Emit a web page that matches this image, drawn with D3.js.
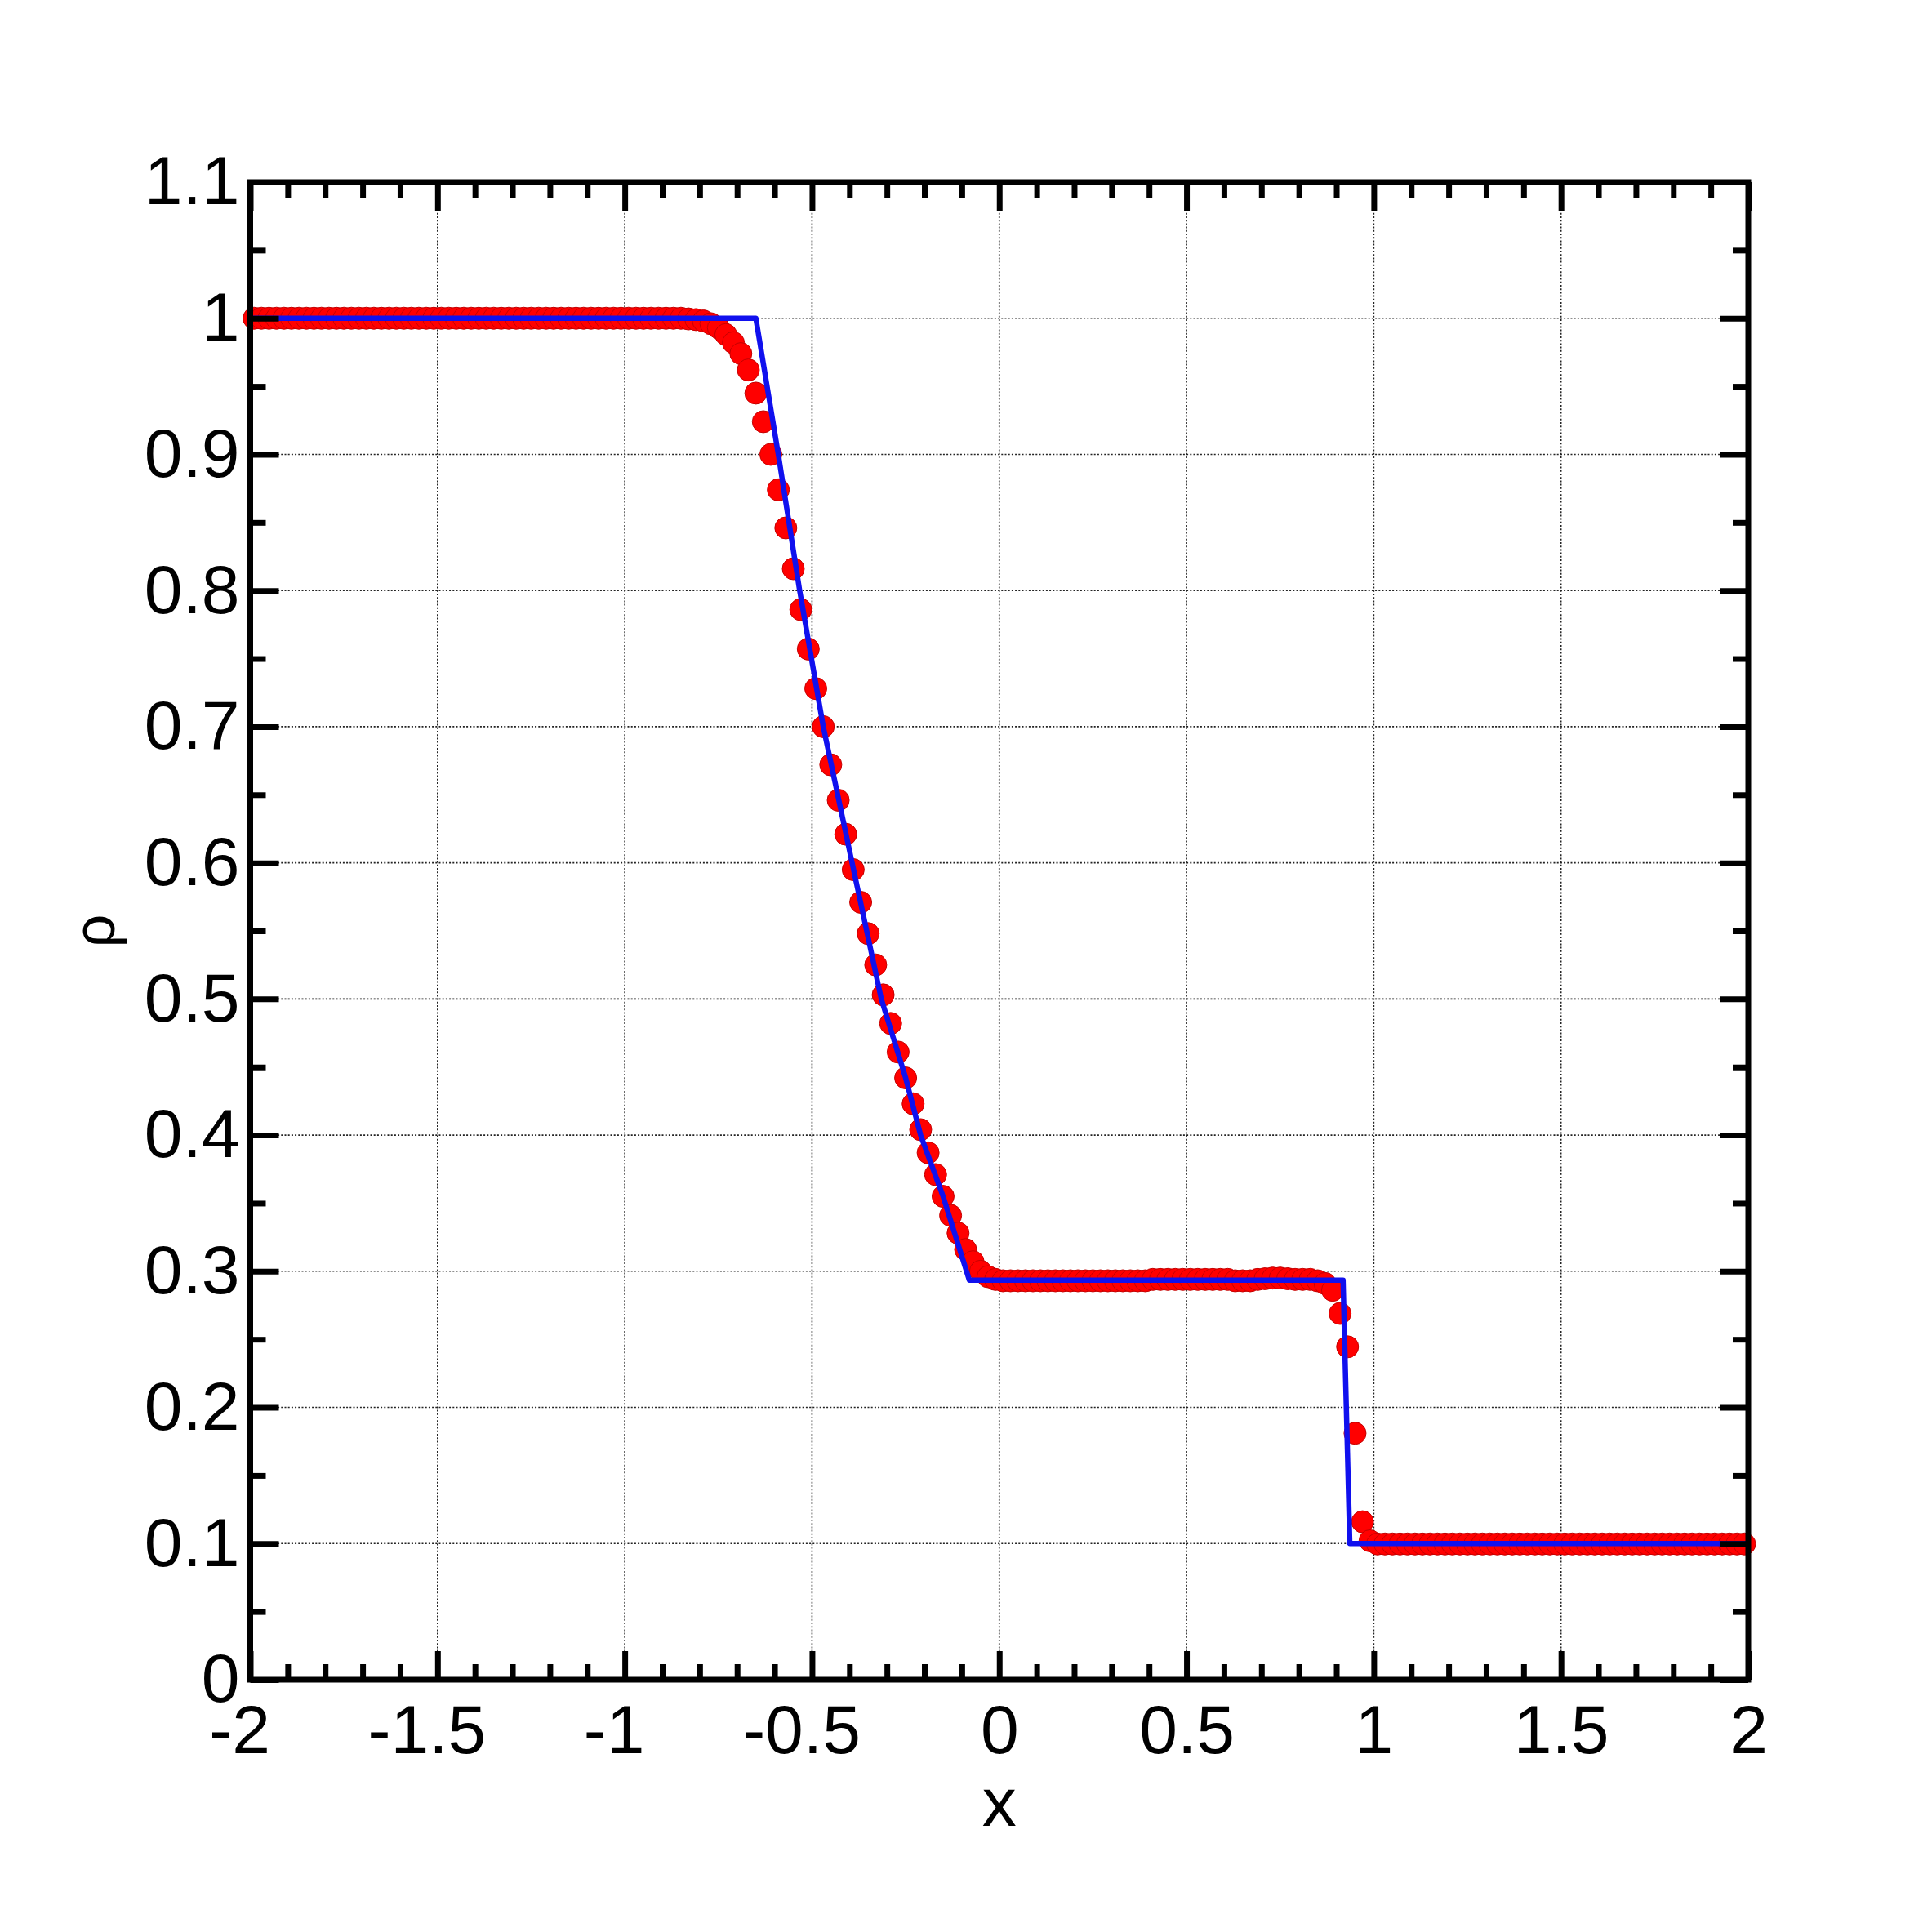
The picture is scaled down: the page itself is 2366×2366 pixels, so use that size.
<!DOCTYPE html>
<html>
<head>
<meta charset="utf-8">
<script src="https://cdn.jsdelivr.net/npm/d3@7"></script>
<style>
	body { margin: 0; background: #fff; }
	svg { display: block; }
	text { font-family: "Liberation Sans", Arial, sans-serif; fill: #000; }
</style>
</head>
<body>
<div id="chart"></div>
<script>
// numerical solution, one value per cell (200 cells on [-2, 2])
var cellX = [
	-1.99, -1.97, -1.95, -1.93, -1.91, -1.89, -1.87, -1.85, -1.83, -1.81,
	-1.79, -1.77, -1.75, -1.73, -1.71, -1.69, -1.67, -1.65, -1.63, -1.61,
	-1.59, -1.57, -1.55, -1.53, -1.51, -1.49, -1.47, -1.45, -1.43, -1.41,
	-1.39, -1.37, -1.35, -1.33, -1.31, -1.29, -1.27, -1.25, -1.23, -1.21,
	-1.19, -1.17, -1.15, -1.13, -1.11, -1.09, -1.07, -1.05, -1.03, -1.01,
	-0.99, -0.97, -0.95, -0.93, -0.91, -0.89, -0.87, -0.85, -0.83, -0.81,
	-0.79, -0.77, -0.75, -0.73, -0.71, -0.69, -0.67, -0.65, -0.63, -0.61,
	-0.59, -0.57, -0.55, -0.53, -0.51, -0.49, -0.47, -0.45, -0.43, -0.41,
	-0.39, -0.37, -0.35, -0.33, -0.31, -0.29, -0.27, -0.25, -0.23, -0.21,
	-0.19, -0.17, -0.15, -0.13, -0.11, -0.09, -0.07, -0.05, -0.03, -0.01,
	0.01, 0.03, 0.05, 0.07, 0.09, 0.11, 0.13, 0.15, 0.17, 0.19,
	0.21, 0.23, 0.25, 0.27, 0.29, 0.31, 0.33, 0.35, 0.37, 0.39,
	0.41, 0.43, 0.45, 0.47, 0.49, 0.51, 0.53, 0.55, 0.57, 0.59,
	0.61, 0.63, 0.65, 0.67, 0.69, 0.71, 0.73, 0.75, 0.77, 0.79,
	0.81, 0.83, 0.85, 0.87, 0.89, 0.91, 0.93, 0.95, 0.97, 0.99,
	1.01, 1.03, 1.05, 1.07, 1.09, 1.11, 1.13, 1.15, 1.17, 1.19,
	1.21, 1.23, 1.25, 1.27, 1.29, 1.31, 1.33, 1.35, 1.37, 1.39,
	1.41, 1.43, 1.45, 1.47, 1.49, 1.51, 1.53, 1.55, 1.57, 1.59,
	1.61, 1.63, 1.65, 1.67, 1.69, 1.71, 1.73, 1.75, 1.77, 1.79,
	1.81, 1.83, 1.85, 1.87, 1.89, 1.91, 1.93, 1.95, 1.97, 1.99
];

var cellRho = [
	1, 1, 1, 1, 1, 1, 1, 1, 1, 1,
	1, 1, 1, 1, 1, 1, 1, 1, 1, 1,
	1, 1, 1, 1, 1, 1, 1, 1, 1, 1,
	1, 1, 1, 1, 1, 1, 1, 1, 1, 1,
	1, 1, 1, 1, 1, 1, 1, 1, 1, 1,
	1, 1, 1, 1, 1, 1, 1, 1, 0.9995, 0.999,
	0.998, 0.996, 0.993, 0.988, 0.982, 0.974, 0.962, 0.945, 0.924, 0.900,
	0.874, 0.846, 0.816, 0.786, 0.757, 0.728, 0.700, 0.672, 0.646, 0.621,
	0.595, 0.571, 0.548, 0.525, 0.503, 0.482, 0.461, 0.442, 0.423, 0.404,
	0.387, 0.371, 0.355, 0.341, 0.328, 0.316, 0.307, 0.300, 0.296, 0.294,
	0.293, 0.293, 0.293, 0.293, 0.293, 0.293, 0.293, 0.293, 0.293, 0.293,
	0.293, 0.293, 0.293, 0.293, 0.293, 0.293, 0.293, 0.293, 0.293, 0.293,
	0.294, 0.294, 0.294, 0.294, 0.294, 0.294, 0.294, 0.294, 0.294, 0.294,
	0.294, 0.293, 0.293, 0.293, 0.294, 0.2945, 0.295, 0.295, 0.2945, 0.294,
	0.294, 0.294, 0.293, 0.291, 0.286, 0.269, 0.2445, 0.181, 0.116, 0.102,
	0.0997, 0.0997, 0.0997, 0.0997, 0.0997, 0.0997, 0.0997, 0.0997, 0.0997, 0.0997,
	0.0997, 0.0997, 0.0997, 0.0997, 0.0997, 0.0997, 0.0997, 0.0997, 0.0997, 0.0997,
	0.0997, 0.0997, 0.0997, 0.0997, 0.0997, 0.0997, 0.0997, 0.0997, 0.0997, 0.0997,
	0.0997, 0.0997, 0.0997, 0.0997, 0.0997, 0.0997, 0.0997, 0.0997, 0.0997, 0.0997,
	0.0997, 0.0997, 0.0997, 0.0997, 0.0997, 0.0997, 0.0997, 0.0997, 0.0997, 0.0997
];

// exact solution (blue line)
var exactX   = [-2, -0.65, -0.59, -0.533, -0.47, -0.393, -0.315, -0.25, -0.21, -0.15, -0.08, 0.918, 0.936, 2];
var exactRho = [1, 1, 0.9, 0.8, 0.7, 0.6, 0.5, 0.442, 0.4, 0.355, 0.2935, 0.2935, 0.1, 0.1];

// ticks
var xMajor = [-2, -1.5, -1, -0.5, 0, 0.5, 1, 1.5, 2];
var xLabels = ["-2", "-1.5", "-1", "-0.5", "0", "0.5", "1", "1.5", "2"];
var yMajor = [0, 0.1, 0.2, 0.3, 0.4, 0.5, 0.6, 0.7, 0.8, 0.9, 1, 1.1];
var yLabels = ["0", "0.1", "0.2", "0.3", "0.4", "0.5", "0.6", "0.7", "0.8", "0.9", "1", "1.1"];
var xMinor = [-1.9, -1.8, -1.7, -1.6, -1.4, -1.3, -1.2, -1.1, -0.9, -0.8, -0.7, -0.6, -0.4, -0.3, -0.2, -0.1,
	0.1, 0.2, 0.3, 0.4, 0.6, 0.7, 0.8, 0.9, 1.1, 1.2, 1.3, 1.4, 1.6, 1.7, 1.8, 1.9];
var yMinor = [0.05, 0.15, 0.25, 0.35, 0.45, 0.55, 0.65, 0.75, 0.85, 0.95, 1.05];

var W = 2366, H = 2366;
// frame edges (note: "top" is taken by window.top)
var frameL = 306.5, frameR = 2141, frameT = 223, frameB = 2057;
var majorLen = 35, minorLen = 19;

var svg = d3.select("#chart").append("svg")
	.attr("width", W)
	.attr("height", H);

svg.append("rect").attr("width", W).attr("height", H).attr("fill", "#fff");

var x = d3.scaleLinear().domain([-2, 2]).range([frameL, frameR]);
var y = d3.scaleLinear().domain([0, 1.1]).range([frameB, frameT]);

// dotted grid on the major ticks (not on the frame)
var grid = svg.append("g").attr("class", "grid")
	.attr("stroke", "#222")
	.attr("stroke-width", 1.6)
	.attr("stroke-dasharray", "2,2.2");

grid.selectAll("line.gx")
	.data(xMajor.slice(1, -1))
	.enter().append("line")
	.attr("x1", function(d) { return x(d); })
	.attr("x2", function(d) { return x(d); })
	.attr("y1", frameT)
	.attr("y2", frameB);

grid.selectAll("line.gy")
	.data(yMajor.slice(1, -1))
	.enter().append("line")
	.attr("x1", frameL)
	.attr("x2", frameR)
	.attr("y1", function(d) { return y(d); })
	.attr("y2", function(d) { return y(d); });

// numerical points
var cells = cellX.map(function(d, i) { return {x: d, rho: cellRho[i]}; });

svg.append("g").attr("class", "dots")
	.selectAll("circle")
	.data(cells)
	.enter().append("circle")
	.attr("cx", function(d) { return x(d.x); })
	.attr("cy", function(d) { return y(d.rho); })
	.attr("r", 13.5)
	.attr("fill", "#ff0000")
	.attr("stroke", "#c40000")
	.attr("stroke-width", 1);

// exact line
var exact = exactX.map(function(d, i) { return [d, exactRho[i]]; });
var line = d3.line()
	.x(function(d) { return x(d[0]); })
	.y(function(d) { return y(d[1]); });

svg.append("path")
	.datum(exact)
	.attr("d", line)
	.attr("fill", "none")
	.attr("stroke", "#1010ee")
	.attr("stroke-width", 6.5)
	.attr("stroke-linejoin", "round");

// axes, ticks all pointing inside the frame
function styleAxis(g) {
	g.select(".domain").remove();
	g.selectAll(".tick line").attr("stroke", "#000").attr("stroke-width", 7);
	g.selectAll("text").style("font-size", "84px").attr("fill", "#000");
}

function noLabels() { return ""; }

svg.append("g")
	.attr("transform", "translate(0," + frameB + ")")
	.call(d3.axisBottom(x).tickValues(xMinor).tickSize(-minorLen).tickFormat(noLabels))
	.call(styleAxis);

var xAxis = svg.append("g")
	.attr("transform", "translate(0," + frameB + ")")
	.call(d3.axisBottom(x).tickValues(xMajor).tickSize(-majorLen).tickPadding(30)
		.tickFormat(function(d, i) { return xLabels[i]; }))
	.call(styleAxis);

// Tecplot centres the digits, the minus sign hangs to the left
xAxis.selectAll("text")
	.attr("dx", function(d) { return d < 0 ? "-0.16em" : 0; });

svg.append("g")
	.attr("transform", "translate(0," + frameT + ")")
	.call(d3.axisTop(x).tickValues(xMinor).tickSize(-minorLen).tickFormat(noLabels))
	.call(styleAxis);

svg.append("g")
	.attr("transform", "translate(0," + frameT + ")")
	.call(d3.axisTop(x).tickValues(xMajor).tickSize(-majorLen).tickFormat(noLabels))
	.call(styleAxis);

svg.append("g")
	.attr("transform", "translate(" + frameL + ",0)")
	.call(d3.axisLeft(y).tickValues(yMinor).tickSize(-minorLen).tickFormat(noLabels))
	.call(styleAxis);

svg.append("g")
	.attr("transform", "translate(" + frameL + ",0)")
	.call(d3.axisLeft(y).tickValues(yMajor).tickSize(-majorLen).tickPadding(13)
		.tickFormat(function(d, i) { return yLabels[i]; }))
	.call(styleAxis);

svg.append("g")
	.attr("transform", "translate(" + frameR + ",0)")
	.call(d3.axisRight(y).tickValues(yMinor).tickSize(-minorLen).tickFormat(noLabels))
	.call(styleAxis);

svg.append("g")
	.attr("transform", "translate(" + frameR + ",0)")
	.call(d3.axisRight(y).tickValues(yMajor).tickSize(-majorLen).tickFormat(noLabels))
	.call(styleAxis);

// frame
svg.append("rect")
	.attr("x", frameL)
	.attr("y", frameT)
	.attr("width", frameR - frameL)
	.attr("height", frameB - frameT)
	.attr("fill", "none")
	.attr("stroke", "#000")
	.attr("stroke-width", 7);

// axis titles
svg.append("text")
	.attr("x", x(0))
	.attr("y", 2236)
	.attr("text-anchor", "middle")
	.style("font-size", "84px")
	.text("x");

svg.append("text")
	.attr("transform", "translate(140," + ((frameT + frameB) / 2) + ") rotate(-90)")
	.attr("text-anchor", "middle")
	.style("font-size", "72px")
	.text("ρ");
</script>
</body>
</html>
